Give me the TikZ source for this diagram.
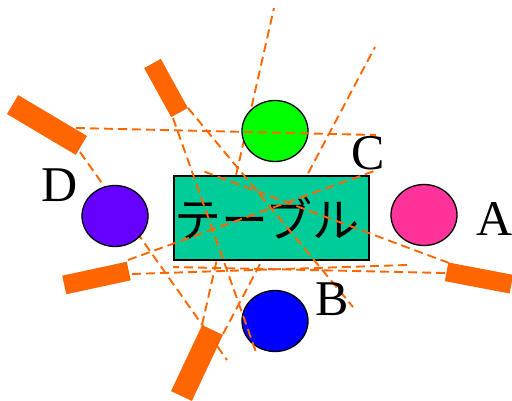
\documentclass[tikz,border=0pt]{standalone}
\usepackage{fontspec}
\setmainfont{Liberation Serif}
\newfontfamily\jpfont{Noto Sans CJK JP}
\usetikzlibrary{shapes.geometric}
\definecolor{cray}{HTML}{FF6600}
\definecolor{ctable}{HTML}{00CC99}
\definecolor{cballA}{HTML}{FF3399}
\definecolor{cballB}{HTML}{0000FF}
\definecolor{cballC}{HTML}{00FF00}
\definecolor{cballD}{HTML}{6600FF}
\tikzset{
  ray/.style={cray, line width=1.9pt, dash pattern=on 9pt off 5pt},
  cam/.style={rectangle, fill=cray, inner sep=0pt},
  ball/.style={ellipse, draw, line width=1.3pt, inner sep=0pt,
    minimum width=66pt, minimum height=61pt},
  lbl/.style={inner sep=0pt, font=\fontsize{50}{50}\selectfont},
}

\begin{document}
\begin{tikzpicture}[x=1pt, y=-1pt]
  \useasboundingbox (0,0) rectangle (512,401);
  \clip (0,0) rectangle (512,401);
  % rays that pass behind the table and the balls
  \draw[ray] (80,152) -- (227,360);
  \draw[ray] (202,325) -- (274,8);
  \draw[ray] (223,334) -- (375,47);
  % table and balls
  \node[draw, fill=ctable, line width=1.3pt, inner sep=0pt,
    minimum width=195pt, minimum height=84pt] (table) at (271.5,218) {};
  \node[inner sep=0pt, font=\jpfont\fontsize{47}{47}\selectfont] (tabtext) at (267,218) {テーブル};
  \node[ball, fill=cballA] (ballA) at (424,215) {};
  \node[ball, fill=cballB] (ballB) at (275,321) {};
  \node[ball, fill=cballC] (ballC) at (275,131) {};
  \node[ball, fill=cballD] (ballD) at (115,216) {};
  % rays drawn over everything
  \draw[ray] (76,128) -- (376,135);
  \draw[ray] (173,118) -- (257,355);
  \draw[ray] (188,108) -- (353,307);
  \draw[ray] (128,260) -- (377,170);
  \draw[ray] (132,274) -- (407,265);
  \draw[ray] (449,263) -- (200,170);
  \draw[ray] (445,273) -- (173,267);
  % cameras
  \node[cam, minimum width=80pt, minimum height=22pt, rotate=-30.7] (cam1) at (47,125) {};
  \node[cam, minimum width=56pt, minimum height=19pt, rotate=-61.1] (cam2) at (166,88) {};
  \node[cam, minimum width=66pt, minimum height=19pt, rotate=12.2] (cam3) at (96.5,278) {};
  \node[cam, minimum width=73pt, minimum height=23pt, rotate=64.8] (cam4) at (197,363) {};
  \node[cam, minimum width=66pt, minimum height=19pt, rotate=-10.8] (cam5) at (479,278) {};
  % labels
  \node[lbl] (labA) at (495,219) {A};
  \node[lbl] (labB) at (332,299) {B};
  \node[lbl] (labC) at (368,153) {C};
  \node[lbl] (labD) at (60,185) {D};
\end{tikzpicture}
\end{document}
